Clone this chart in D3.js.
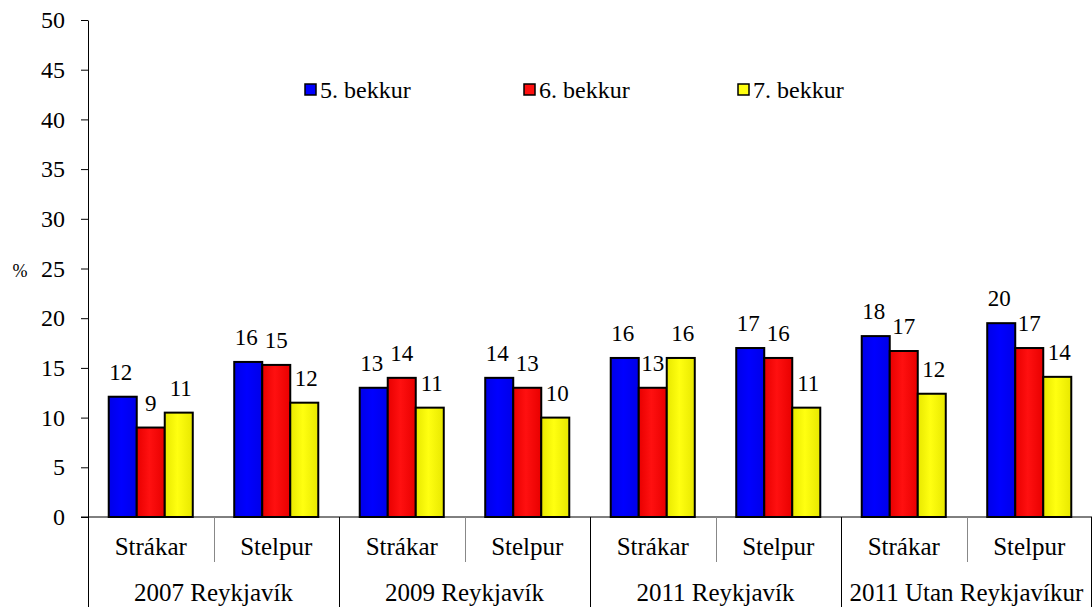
<!DOCTYPE html>
<html>
<head>
<meta charset="utf-8">
<script src="https://cdn.jsdelivr.net/npm/d3@7"></script>
<style>
  body { margin: 0; background: #fff; }
  text { font-family: "Liberation Serif", "Times New Roman", serif; fill: #000; }
</style>
</head>
<body>
<script>
var groups = ["2007 Reykjavík", "2009 Reykjavík", "2011 Reykjavík", "2011 Utan Reykjavíkur"]
var genders = ["Strákar", "Stelpur"]
var seriesNames = ["5. bekkur", "6. bekkur", "7. bekkur"]

// values per group/gender, order: 5., 6., 7. bekkur
var bekkur5 = [12.1, 15.6, 13.0, 14.0, 16.0, 17.0, 18.2, 19.5]
var bekkur6 = [9.0, 15.3, 14.0, 13.0, 13.0, 16.0, 16.7, 17.0]
var bekkur7 = [10.5, 11.5, 11.0, 10.0, 16.0, 11.0, 12.4, 14.1]
var labels5 = [12, 16, 13, 14, 16, 17, 18, 20]
var labels6 = [9, 15, 14, 13, 13, 16, 17, 17]
var labels7 = [11, 12, 11, 10, 16, 11, 12, 14]

var yTicks = [0, 5, 10, 15, 20, 25, 30, 35, 40, 45, 50]

var cats = []
groups.forEach(function (g, gi) {
  genders.forEach(function (s, si) {
    cats.push({ id: gi * 2 + si, group: g, gender: s })
  })
})

var rows = cats.map(function (c, i) {
  return {
    id: c.id,
    vals: [
      { s: 0, v: bekkur5[i], lab: labels5[i] },
      { s: 1, v: bekkur6[i], lab: labels6[i] },
      { s: 2, v: bekkur7[i], lab: labels7[i] }
    ]
  }
})

var plotL = 88, plotR = 1092, plotT = 20, plotB = 517

var svg = d3.select("body").append("svg")
            .attr("width", 1092)
            .attr("height", 607)

var x0 = d3.scaleBand()
           .domain(cats.map(c => c.id))
           .range([plotL, plotR])
           .paddingInner(0)

var x1 = d3.scaleBand()
           .domain([0, 1, 2])
           .range([0, x0.bandwidth()])
           .paddingInner(0)
           .paddingOuter(0.74)

var y = d3.scaleLinear()
          .domain([0, 50])
          .range([plotB, plotT])

var fills = [["#0000e8", "#0000ff"], ["#e80000", "#ff1010"], ["#e8e800", "#ffff10"]]

var defs = svg.append("defs")
fills.forEach(function (f, i) {
  var grad = defs.append("linearGradient")
                 .attr("id", "g" + i)
                 .attr("x1", "0%").attr("x2", "100%")
                 .attr("y1", "0%").attr("y2", "0%")
  grad.append("stop").attr("offset", "0%").attr("stop-color", f[0])
  grad.append("stop").attr("offset", "45%").attr("stop-color", f[1])
  grad.append("stop").attr("offset", "100%").attr("stop-color", f[0])
})

// y axis
var yAxis = d3.axisLeft(y)
              .tickValues(yTicks)
              .tickSize(7)
              .tickSizeOuter(0)
              .tickPadding(16)

var yG = svg.append("g")
            .attr("transform", "translate(" + plotL + ",0)")
            .attr("font-family", null)
            .call(yAxis)
yG.select(".domain").attr("stroke", "#000")
yG.selectAll("line").attr("stroke", "#000")
yG.selectAll("text")
  .attr("font-size", 24)

svg.append("text")
   .attr("x", 20)
   .attr("y", 277)
   .attr("text-anchor", "middle")
   .attr("font-size", 18)
   .text("%")

// bars
var catG = svg.selectAll(".cat")
              .data(rows)
              .enter()
              .append("g")
              .attr("class", "cat")
              .attr("transform", d => "translate(" + x0(d.id) + ",0)")

catG.selectAll("rect")
    .data(d => d.vals)
    .enter()
    .append("rect")
    .attr("x", d => x1(d.s))
    .attr("y", d => y(d.v))
    .attr("width", x1.bandwidth())
    .attr("height", d => y(0) - y(d.v))
    .attr("fill", d => "url(#g" + d.s + ")")
    .attr("stroke", "#000")
    .attr("stroke-width", 2)

catG.selectAll(".lab")
    .data(d => d.vals)
    .enter()
    .append("text")
    .attr("class", "lab")
    .attr("x", d => x1(d.s) + x1.bandwidth() / 2 + (d.s - 1) * 2)
    .attr("y", d => y(d.v) - 17)
    .attr("text-anchor", "middle")
    .attr("font-size", 23)
    .text(d => d.lab)

// x axis line
svg.append("line")
   .attr("x1", plotL - 7).attr("x2", plotR)
   .attr("y1", plotB).attr("y2", plotB)
   .attr("stroke", "#000")

// separators
d3.range(cats.length + 1).forEach(function (i) {
  var xx = i < cats.length ? x0(i) : plotR - 1
  var full = i % 2 === 0
  svg.append("line")
     .attr("x1", Math.round(xx) + 0.5).attr("x2", Math.round(xx) + 0.5)
     .attr("y1", plotB).attr("y2", full ? 607 : 562)
     .attr("stroke", full ? "#000" : "#888")
})

svg.selectAll(".gender")
   .data(cats)
   .enter()
   .append("text")
   .attr("class", "gender")
   .attr("x", d => x0(d.id) + x0.bandwidth() / 2)
   .attr("y", 555)
   .attr("text-anchor", "middle")
   .attr("font-size", 25)
   .text(d => d.gender)

svg.selectAll(".group")
   .data(groups)
   .enter()
   .append("text")
   .attr("class", "group")
   .attr("x", (d, i) => x0(i * 2) + x0.bandwidth())
   .attr("y", 601)
   .attr("text-anchor", "middle")
   .attr("font-size", 25)
   .text(d => d)

// legend
var legendX = [305, 524, 738]
var leg = svg.selectAll(".leg")
             .data(seriesNames)
             .enter()
             .append("g")
             .attr("class", "leg")
             .attr("transform", (d, i) => "translate(" + legendX[i] + ",84)")

leg.append("rect")
   .attr("width", 11)
   .attr("height", 11)
   .attr("fill", (d, i) => fills[i][1])
   .attr("stroke", "#000")
   .attr("stroke-width", 1.5)

leg.append("text")
   .attr("x", 15)
   .attr("y", 14)
   .attr("font-size", 24)
   .text(d => d)

svg.selectAll("text").style("font-family", "'Liberation Serif', serif")
</script>
</body>
</html>
